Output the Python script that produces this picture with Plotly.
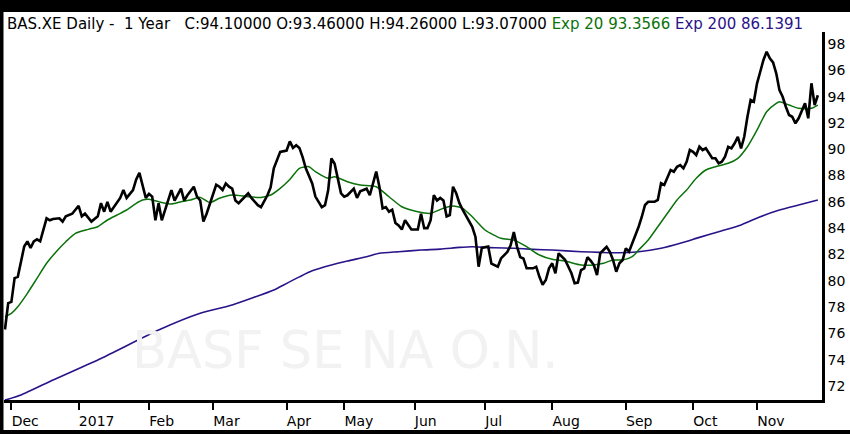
import plotly.graph_objects as go

# ---- data (trading-day index) ----
price_idx = [0,1,2,3,4,5,6,7,8,9,10,11,12,13,14,15,17,18,19,20,21,23,24,25,27,29,30,31,32,33,34,36,37,38,40,41,42,43,44,45,46,47,48,49,50,52,53,55,56,57,59,60,61,62,63,65,66,67,68,69,70,71,72,73,75,76,77,79,80,81,82,83,84,86,88,89,90,91,92,93,94,96,97,99,100,101,102,103,104,105,106,107,109,110,111,113,114,116,117,118,119,120,121,122,123,124,125,127,129,130,131,132,133,134,135,136,137,138,139,140,141,142,143,144,145,146,147,148,149,151,152,154,155,157,158,159,160,161,162,163,165,166,167,168,169,170,171,172,173,174,175,177,178,179,180,181,182,183,184,185,186,187,188,189,190,191,192,193,194,195,196,197,198,199,200,201,203,204,205,206,207,208,209,210,211,212,213,214,215,216,217,218,219,220,221,222,223,224,225,226,227,228,229,230,231,232,233,234,235,236,237,238,239,240,241,242,243,244,245,246,247,248,249,250,251,252,253,254]
price_val = [76.3,78.3,78.4,80.2,80.3,81.6,82.6,83.0,82.5,83.0,83.15,83.0,83.9,84.75,84.6,84.7,84.75,84.5,84.9,85.0,85.1,85.7,84.9,85.1,84.5,84.9,85.9,85.25,86.0,85.25,85.6,86.3,86.9,86.3,86.9,87.7,88.2,87.15,86.3,86.6,86.4,84.6,85.9,84.6,85.4,86.9,86.1,87.0,86.1,86.5,87.15,86.4,86.1,84.5,85.1,86.65,87.3,87.15,86.9,87.4,87.15,87.0,86.1,85.9,86.4,86.65,86.3,85.75,85.6,86.0,86.5,87.1,88.55,89.8,89.9,90.6,90.1,90.3,90.1,89.4,88.55,87.4,86.4,85.6,85.75,86.9,89.3,88.9,87.7,86.65,86.4,86.5,87.0,86.3,86.8,87.0,86.5,88.3,87.15,85.5,85.6,85.25,85.4,84.4,84.2,83.9,84.6,83.9,83.9,85.1,84.0,84.0,84.6,86.5,86.1,86.3,86.1,84.9,85.0,87.15,86.65,85.9,85.4,85.0,84.6,84.1,83.35,81.07,82.5,82.6,81.3,81.07,81.7,82.2,82.7,83.7,82.6,81.8,81.7,80.95,80.95,81.07,80.3,79.7,80.06,80.95,81.33,80.57,82.09,81.83,81.6,80.57,79.81,79.86,80.82,80.95,81.79,81.53,81.2,80.44,82.09,82.34,82.59,82.21,81.58,80.69,81.33,81.58,82.47,82.21,82.85,83.35,84.11,84.87,85.76,86.01,86.01,86.14,87.41,87.28,87.79,88.42,88.29,88.67,88.8,88.55,89.05,89.94,89.81,89.56,90.19,89.94,90.07,89.69,89.31,89.31,88.93,89.05,89.43,90.19,90.07,90.45,90.95,90.07,90.95,92.47,93.74,93.61,95.01,95.89,96.78,97.41,96.91,96.6,95.77,94.5,93.99,93.23,92.6,92.47,91.97,92.35,92.98,93.49,92.35,95.01,93.36,94.1]

ema20_idx = [0,2,4,7,10,13,16,19,22,26,29,32,35,38,41,43,45,48,52,55,58,61,64,67,71,76,80,83,86,89,92,95,97,101,103,107,111,116,120,124,129,133,137,140,143,146,150,155,159,163,167,171,175,180,184,187,190,193,196,198,201,204,207,210,213,216,219,222,226,229,232,235,238,241,242,245,248,252,254]
ema20_val = [77.27,77.53,78.03,79.05,80.19,81.33,82.21,82.97,83.61,83.91,84.11,84.62,85.0,85.38,85.89,86.14,86.19,86.01,85.84,86.01,86.14,86.34,85.94,86.27,86.52,86.39,86.34,86.52,87.03,87.7,88.55,88.67,88.29,87.79,87.91,87.53,87.28,87.15,86.39,85.63,85.25,85.13,85.51,85.68,85.51,84.87,83.86,83.23,83.1,82.59,81.96,81.63,81.5,81.2,81.2,81.33,81.58,81.58,81.83,82.34,83.1,84.11,85.13,86.14,86.9,87.79,88.42,88.67,88.93,89.31,90.19,91.46,92.85,93.49,93.61,93.36,93.11,93.11,93.36]

ema200_idx = [0,5,15,30,48,61,71,84,86,92,96,102,107,113,117,123,130,136,142,146,153,159,165,171,180,186,192,198,205,211,217,223,230,236,242,248,254]
ema200_val = [70.93,71.32,72.46,74.1,76.26,77.53,78.16,79.3,79.55,80.3,80.76,81.2,81.5,81.83,82.09,82.21,82.34,82.41,82.54,82.59,82.51,82.47,82.39,82.34,82.21,82.16,82.13,82.21,82.47,82.85,83.3,83.73,84.24,84.87,85.38,85.76,86.14]

month_idx = [2,23,45,65,88,106,128,150,171,194,215,235]
month_labels = ["Dec","2017","Feb","Mar","Apr","May","Jun","Jul","Aug","Sep","Oct","Nov"]
price_ticks = [72,74,76,78,80,82,84,86,88,90,92,94,96,98]

W, H = 850, 434
L, R, T, B = 4, 28, 32, 34
PW, PH = W - L - R, H - T - B

def px(x):
    return (x - L) / PW

def py(y):
    return (H - B - y) / PH

GREEN = "#0b720b"
NAVY = "#2a1389"
FONT = "DejaVu Sans"

fig = go.Figure()
fig.add_trace(go.Scatter(x=ema200_idx, y=ema200_val, mode="lines",
                         line=dict(color=NAVY, width=1.6, shape="spline", smoothing=0.6),
                         hoverinfo="skip"))
fig.add_trace(go.Scatter(x=ema20_idx, y=ema20_val, mode="lines",
                         line=dict(color=GREEN, width=1.5, shape="spline", smoothing=0.6),
                         hoverinfo="skip"))
fig.add_trace(go.Scatter(x=price_idx, y=price_val, mode="lines",
                         line=dict(color="black", width=2.6),
                         hoverinfo="skip"))

fig.update_layout(
    width=W, height=H,
    margin=dict(l=L, r=R, t=T, b=B, pad=0, autoexpand=False),
    paper_bgcolor="white", plot_bgcolor="white",
    showlegend=False,
    font=dict(family=FONT, size=14, color="black"),
    xaxis=dict(range=[-0.31, 255.3], tickmode="array", tickvals=month_idx, ticktext=month_labels,
               showgrid=False, zeroline=False, showline=True, linecolor="black", linewidth=2.5,
               ticks="outside", ticklen=7, tickwidth=2, tickcolor="black",
               ticklabelposition="outside right", ticklabelstandoff=6, ticklabelshift=-2,
               tickfont=dict(family=FONT, size=14, color="black")),
    yaxis=dict(range=[70.94, 98.91], side="right", tickmode="array", tickvals=price_ticks,
               showgrid=False, zeroline=False, showline=True, linecolor="black", linewidth=2.5,
               ticks="", ticklen=0, tickfont=dict(family=FONT, size=14, color="black")),
)

# watermark
fig.add_annotation(text="BASF SE NA O.N.", xref="paper", yref="paper",
                   x=px(345), y=py(350), xanchor="center", yanchor="middle", showarrow=False,
                   font=dict(family=FONT, size=51, color="#f2f2f2"))

# header text
header = ("BAS.XE Daily -  1 Year   C:94.10000 O:93.46000 H:94.26000 L:93.07000 "
          f"<span style='color:{GREEN}'>Exp 20 93.3566</span> "
          f"<span style='color:{NAVY}'>Exp 200 86.1391</span>")
fig.add_annotation(text=header, xref="paper", yref="paper", x=px(5), y=py(24),
                   xanchor="left", yanchor="middle", showarrow=False,
                   font=dict(family=FONT, size=15, color="black"))

# black frame strips
fig.add_shape(type="rect", xref="paper", yref="paper", x0=px(-2), x1=px(W + 2), y0=py(12), y1=py(-2),
              fillcolor="black", line_width=0, layer="above")
fig.add_shape(type="rect", xref="paper", yref="paper", x0=px(-2), x1=px(3.5), y0=py(H + 2), y1=py(-2),
              fillcolor="black", line_width=0, layer="above")
fig.add_shape(type="rect", xref="paper", yref="paper", x0=px(-2), x1=px(W + 2), y0=py(H + 2), y1=py(430),
              fillcolor="black", line_width=0, layer="above")

fig.write_html("out.html", config={"displayModeBar": False},
               post_script="document.body.style.margin='0';document.body.style.overflow='hidden';")
